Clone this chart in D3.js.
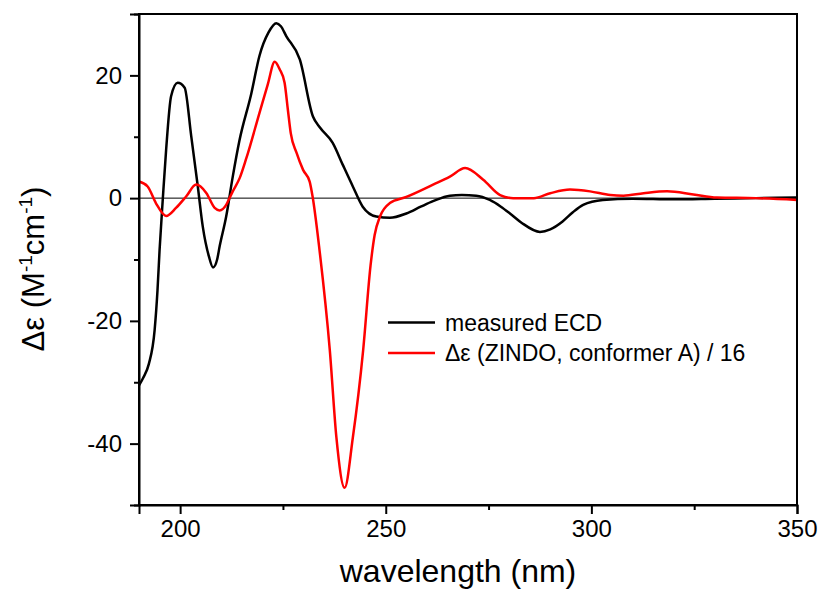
<!DOCTYPE html>
<html>
<head>
<meta charset="utf-8">
<script src="https://cdn.jsdelivr.net/npm/d3@7"></script>
<style>
  body { margin: 0; background: #fff; }
  svg { display: block; font-family: "Liberation Sans", Arial, sans-serif; }
</style>
</head>
<body>
<svg id="chart" width="822" height="598"></svg>
<script>
// measured ECD spectrum (nm, delta epsilon)
const measured_nm = [190, 191, 192.4, 193.8, 194.5, 195, 195.8, 196.6, 197.8, 199.4, 201.1, 202.7, 204.3, 205.5,
  207, 208, 209, 209.6, 211.2, 212.8, 214.4, 217.3, 219.3, 221.5, 223.4, 224.5, 225.8, 229.1, 232.3, 234,
  237.1, 239.5, 242, 244.4, 247.7, 251, 255, 258.5, 261.5, 265.6, 268.5, 272, 275.3, 278, 280.2, 283,
  287.5, 290, 293, 295.5, 298, 302.8, 310, 320, 330, 340, 350];
const measured_de = [-30.5, -29.3, -27, -21.5, -15, -8.5, 0, 7.9, 16.6, 18.8, 18, 10.1, 1.9, -4.6,
  -9.5, -11.3, -10, -7.9, -3, 3.5, 9.3, 17, 23.2, 27, 28.5, 28, 26.4, 22.6, 13.3, 11.5,
  9, 5.5, 1.9, -1.4, -3, -3.2, -2.5, -1.4, -0.5, 0.4, 0.5, 0.4, -0.3, -1.4, -2.5, -4,
  -5.5, -5.1, -3.8, -2.3, -1.1, -0.3, -0.1, -0.2, -0.1, 0, 0.1];

// ZINDO conformer A, scaled by 1/16
const zindo_nm = [190, 192.1, 194.1, 196.6, 199, 201.5, 203.9, 206.4, 208.4, 209.6, 211.2, 212, 212.8,
  214.5, 216.1, 219.3, 221.3, 223, 224.2, 225.4, 226.2, 226.9, 228.3, 229.9, 231.5, 232.2, 233.9, 236.4, 238, 240,
  242, 244.5, 246.3, 247.3, 248.6, 251, 255, 261.5, 265.6, 269.3, 273.7, 277.8, 281, 286, 290,
  294.8, 299.7, 304.6, 307.8, 312.7, 318.4, 324.8, 330.5, 340, 350];
const zindo_de = [2.7, 1.9, -0.8, -2.9, -1.6, 0.3, 2.2, 0.8, -1.6, -2, -1.1, 0, 1.1,
  3.3, 6.5, 13.9, 18.5, 22.2, 21, 18.8, 14.4, 10.6, 7.4, 4.6, 2.7, 0.3, -8.5, -24.8, -39, -47.2,
  -39, -24.8, -11, -6, -3, -0.8, 0.2, 2.2, 3.5, 4.9, 3, 0.5, 0, 0, 0.8,
  1.4, 1.1, 0.5, 0.4, 0.8, 1.1, 0.6, 0.1, 0, -0.3];

const x_ticks = [200, 250, 300, 350];
const x_minor = [225, 275, 325];
const y_ticks = [20, 0, -20, -40];
const y_minor = [30, 10, -10, -30, -50];

const series = [
  { name: 'measured ECD', nm: measured_nm, de: measured_de, stroke: '#000' },
  { name: 'Δε (ZINDO, conformer A) / 16', nm: zindo_nm, de: zindo_de, stroke: '#ff0000' },
];

const margin = { top: 14, right: 25, bottom: 93, left: 139 };
const width = 822;
const height = 598;

const svg = d3.select('#chart');

const x = d3.scaleLinear()
  .domain([190, 350])
  .range([margin.left, width - margin.right]);

const y = d3.scaleLinear()
  .domain([-50, 30])
  .range([height - margin.bottom, margin.top]);

// zero line
svg.append('line')
  .attr('x1', x(190)).attr('x2', x(350))
  .attr('y1', y(0)).attr('y2', y(0))
  .attr('stroke', '#000')
  .attr('stroke-width', 1);

// curves
const line = d3.line()
  .x(d => x(d[0]))
  .y(d => y(d[1]))
  .curve(d3.curveMonotoneX);

svg.append('g')
  .selectAll('path')
  .data(series)
  .join('path')
  .attr('d', s => line(s.nm.map((n, i) => [n, s.de[i]])))
  .attr('fill', 'none')
  .attr('stroke', s => s.stroke)
  .attr('stroke-width', 2.5)
  .attr('stroke-linejoin', 'round');

// frame
svg.append('rect')
  .attr('x', x(190)).attr('y', y(30))
  .attr('width', x(350) - x(190))
  .attr('height', y(-50) - y(30))
  .attr('fill', 'none')
  .attr('stroke', '#000')
  .attr('stroke-width', 2);

// axes, plain hyphen for negatives like the original
const plain = d => String(d);

const x_axis = svg.append('g')
  .attr('transform', `translate(0,${y(-50)})`)
  .call(d3.axisBottom(x).tickValues(x_ticks).tickSize(9).tickPadding(6).tickFormat(plain));

svg.append('g')
  .attr('transform', `translate(0,${y(-50)})`)
  .call(d3.axisBottom(x).tickValues(x_minor).tickSize(5).tickFormat(''))
  .call(g => g.select('.domain').remove());

const y_axis = svg.append('g')
  .attr('transform', `translate(${x(190)},0)`)
  .call(d3.axisLeft(y).tickValues(y_ticks).tickSize(9).tickPadding(8).tickFormat(plain));

svg.append('g')
  .attr('transform', `translate(${x(190)},0)`)
  .call(d3.axisLeft(y).tickValues(y_minor).tickSize(5).tickFormat(''))
  .call(g => g.select('.domain').remove());

svg.selectAll('.domain').attr('stroke-width', 2);
svg.selectAll('.tick line').attr('stroke-width', 2);

x_axis.selectAll('text')
  .style('font-size', '24px')
  .style('font-family', '"Liberation Sans", Arial, sans-serif')
  .attr('fill', '#000');

y_axis.selectAll('text')
  .style('font-size', '24px')
  .style('font-family', '"Liberation Sans", Arial, sans-serif')
  .attr('fill', '#000');

// axis titles
svg.append('text')
  .attr('x', 458)
  .attr('y', 582)
  .attr('text-anchor', 'middle')
  .style('font-size', '32px')
  .text('wavelength (nm)');

const y_title = svg.append('text')
  .attr('transform', 'translate(44,269) rotate(-90)')
  .attr('text-anchor', 'middle')
  .style('font-size', '31px');
y_title.append('tspan').text('Δε (M');
y_title.append('tspan').attr('dy', -12).style('font-size', '19px').text('-1');
y_title.append('tspan').attr('dy', 12).text('cm');
y_title.append('tspan').attr('dy', -12).style('font-size', '19px').text('-1');
y_title.append('tspan').attr('dy', 12).text(')');

// legend
const legend = svg.append('g')
  .selectAll('g')
  .data(series)
  .join('g')
  .attr('transform', (d, i) => `translate(388,${322.5 + i * 30.5})`);

legend.append('line')
  .attr('x1', 0).attr('x2', 47)
  .attr('stroke', d => d.stroke)
  .attr('stroke-width', 2.5);

legend.append('text')
  .attr('x', 57)
  .attr('dy', '0.35em')
  .style('font-size', '23px')
  .text(d => d.name);
</script>
</body>
</html>
